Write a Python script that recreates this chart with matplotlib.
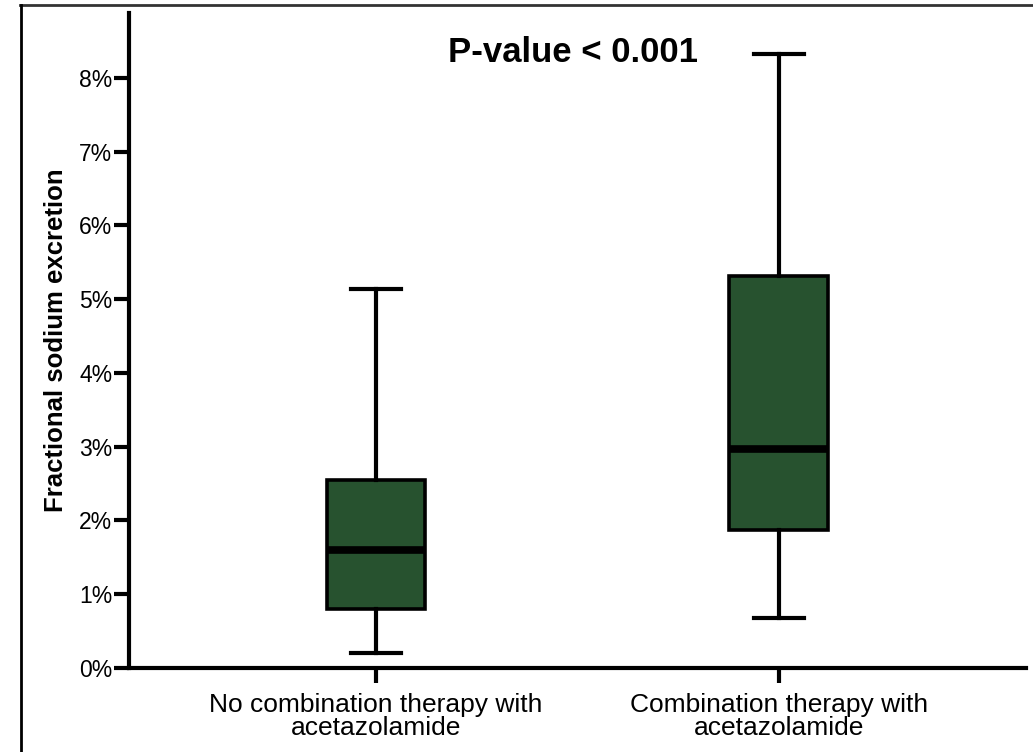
import matplotlib
matplotlib.use("Agg")
import matplotlib.pyplot as plt
from matplotlib.lines import Line2D
from matplotlib.ticker import FuncFormatter

categories = ["No combination therapy with\nacetazolamide",
              "Combination therapy with\nacetazolamide"]
whislo = [0.21, 0.68]
q1 = [0.80, 1.87]
med = [1.60, 2.97]
q3 = [2.55, 5.31]
whishi = [5.14, 8.32]
yticks = [0, 1, 2, 3, 4, 5, 6, 7, 8]
annotation = "P-value < 0.001"

plt.rcParams['font.family'] = ['Liberation Sans', 'DejaVu Sans']

fig = plt.figure(figsize=(10.33, 7.52), dpi=100)
ax = fig.add_axes([0.1249, 0.1117, 0.8681, 0.8710])

stats = []
for i, c in enumerate(categories):
    stats.append(dict(label=c, whislo=whislo[i], q1=q1[i], med=med[i],
                      q3=q3[i], whishi=whishi[i], fliers=[]))

ax.bxp(stats, positions=[1, 2], widths=0.245, patch_artist=True,
       showfliers=False,
       boxprops=dict(facecolor='#27522F', edgecolor='black', linewidth=2.6),
       medianprops=dict(color='black', linewidth=5.5, solid_capstyle='butt'),
       whiskerprops=dict(color='black', linewidth=3),
       capprops=dict(color='black', linewidth=3),
       capwidths=0.125)

ax.set_xlim(0.387, 2.613)
ax.set_ylim(0, 8.88)
ax.set_yticks(yticks)
ax.yaxis.set_major_formatter(FuncFormatter(lambda v, p: f"{int(v)}%"))
ax.set_xticks([1, 2])
ax.set_xticklabels(categories, fontsize=19, linespacing=0.95)
ax.tick_params(axis='y', labelsize=16.5, length=11, width=3, pad=1)
ax.tick_params(axis='x', length=11, width=3, pad=7)
for s in ['top', 'right']:
    ax.spines[s].set_visible(False)
for s in ['left', 'bottom']:
    ax.spines[s].set_linewidth(3)
ax.set_ylabel("Fractional sodium excretion", fontsize=18.5, fontweight='bold', labelpad=8)

ax.text(1.49, 8.22, annotation, ha='center', va='baseline',
        fontsize=25, fontweight='bold')

# outer frame lines (top and left)
fig.add_artist(Line2D([20/1033, 1], [1-5/752, 1-5/752], transform=fig.transFigure,
                      color='#333333', linewidth=2))
fig.add_artist(Line2D([21/1033, 21/1033], [0, 1-5/752], transform=fig.transFigure,
                      color='black', linewidth=2))

fig.savefig("out.png", dpi=100)
